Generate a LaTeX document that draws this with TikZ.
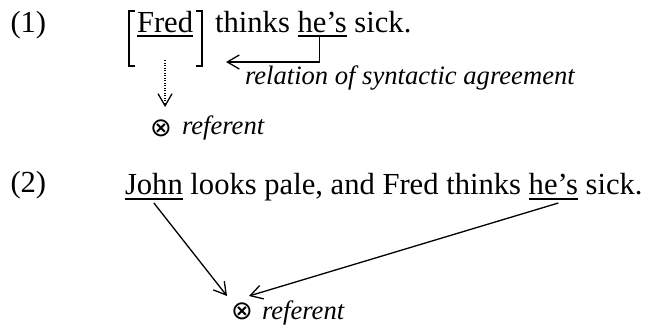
\documentclass[tikz,border=0pt]{standalone}
\usepackage{fontspec}
\setmainfont{Liberation Serif}
\newfontfamily\symfont{DejaVu Sans}
\usetikzlibrary{positioning,arrows.meta}

\begin{document}
\begin{tikzpicture}[x=1pt, y=-1pt,
  every node/.style={inner sep=0pt, outer sep=0pt},
  word/.style={font=\fontsize{30.6}{36}\selectfont},
  note/.style={font=\fontsize{26.6}{30}\selectfont\itshape},
  refsym/.style={font=\symfont\fontsize{26}{26}\selectfont},
  uline/.style={line width=1.6pt},
  brk/.style={line width=2pt},
  arr/.style={line width=1.3pt, -{Straight Barb[length=12pt,width=14pt]}},
  dotarr/.style={arr, dash pattern=on 1pt off 1.5pt}]
  \useasboundingbox (0,0) rectangle (651,327);
  \node[word, anchor=base west] (ex1) at (10.5,32) {(1)};
  \node[word, anchor=base west] (fred) at (137,32) {Fred};
  \node[word, base right=22pt of fred] (thinks1) {thinks};
  \node[word, base right=7.65pt of thinks1] (hes1) {he’s};
  \node[word, base right=7.65pt of hes1] (sick1) {sick.};
  \draw[uline] ([yshift=-4pt]fred.base west) -- ([yshift=-4pt]fred.base east);
  \draw[uline] ([yshift=-4pt]hes1.base west) -- ([yshift=-4pt]hes1.base east);
  \draw[brk] ([xshift=-2pt]fred.north west) -- ([xshift=-8pt]fred.north west)
    -- ([xshift=-8pt,yshift=-55pt]fred.north west) -- ([xshift=-2pt,yshift=-55pt]fred.north west);
  \draw[brk] ([xshift=3pt]fred.north east) -- ([xshift=9pt]fred.north east)
    -- ([xshift=9pt,yshift=-55pt]fred.north east) -- ([xshift=3pt,yshift=-55pt]fred.north east);
  \coordinate (agr) at (226,62);
  \draw[arr] ([xshift=-3pt,yshift=-4pt]hes1.base) |- (agr);
  \node[note, anchor=base west] (rel) at (245,84) {relation of syntactic agreement};
  \node[refsym] (ref1) at (161,128.5) {⊗};
  \node[note, anchor=base west] (refw1) at (182,134) {referent};
  \draw[dotarr] ([yshift=-28pt]fred.south) -- (fred.south |- 0,107);

  \node[word, anchor=base west] (ex2) at (10.5,192) {(2)};
  \node[word, anchor=base west] (john) at (125,194) {John};
  \node[word, base right=7.65pt of john] (mid2) {looks pale, and Fred thinks};
  \node[word, base right=7.65pt of mid2] (hes2) {he’s};
  \node[word, base right=7.65pt of hes2] (sick2) {sick.};
  \draw[uline] ([yshift=-5pt]john.base west) -- ([yshift=-5pt]john.base east);
  \draw[uline] ([yshift=-5pt]hes2.base west) -- ([yshift=-5pt]hes2.base east);
  \node[refsym] (ref2) at (242,311) {⊗};
  \node[note, anchor=base west] (refw2) at (262,319) {referent};
  \coordinate (tipj) at (227,296);
  \coordinate (tiph) at (249,296);
  \draw[arr] ([yshift=-9pt]john.base) -- (tipj);
  \draw[arr] ([xshift=5pt,yshift=-9pt]hes2.base) -- (tiph);
\end{tikzpicture}
\end{document}
